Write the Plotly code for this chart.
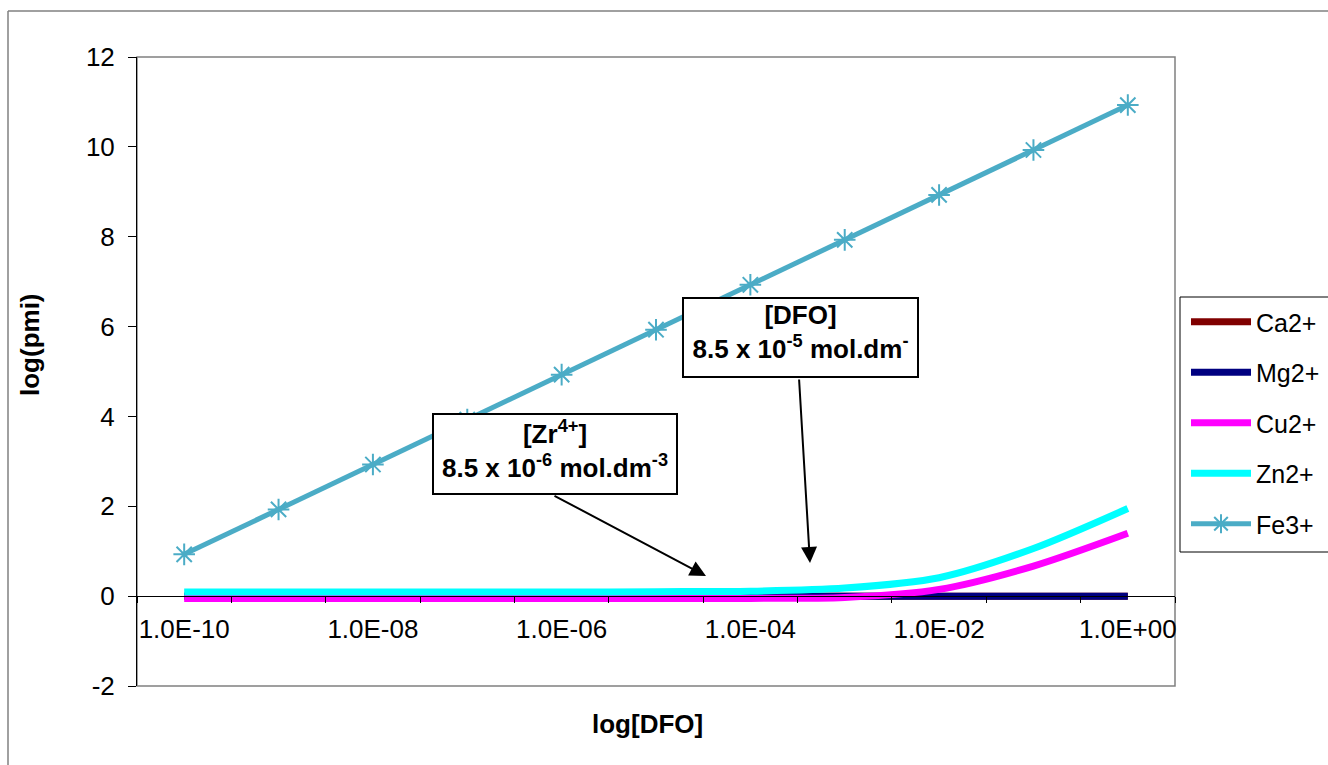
import plotly.graph_objects as go

# log[DFO] concentrations (mol.dm-3), one point per decade
dfo = [1e-10, 1e-9, 1e-8, 1e-7, 1e-6, 1e-5, 1e-4, 1e-3, 1e-2, 1e-1, 1e0]

# log(pmi) for each metal ion
ca2 = [0.0, 0.0, 0.0, 0.0, 0.0, 0.0, 0.0, 0.0, 0.0, 0.0, 0.0]
mg2 = [0.0, 0.0, 0.0, 0.0, 0.0, 0.0, 0.0, 0.0, 0.0, 0.0, 0.0]
cu2 = [-0.05, -0.05, -0.05, -0.05, -0.05, -0.05, -0.05, -0.03, 0.15, 0.67, 1.40]
zn2 = [0.09, 0.09, 0.09, 0.09, 0.09, 0.10, 0.11, 0.18, 0.41, 1.06, 1.95]
fe3 = [0.93, 1.93, 2.93, 3.93, 4.93, 5.93, 6.93, 7.93, 8.93, 9.93, 10.93]

# axis labelling
x_tick_vals = [1e-10, 1e-8, 1e-6, 1e-4, 1e-2, 1e0]
x_tick_text = ["1.0E-10", "1.0E-08", "1.0E-06", "1.0E-04", "1.0E-02", "1.0E+00"]
y_tick_vals = [-2, 0, 2, 4, 6, 8, 10, 12]
y_tick_text = ["-2", "0", "2", "4", "6", "8", "10", "12"]

FONT = "Liberation Sans, Arial, sans-serif"

# figure geometry (pixels)
W, H = 1328, 765
L, R, T, B = 137, 153, 57, 79
PW, PH = W - L - R, H - T - B


def px(xp):
    return (xp - L) / PW


def py(yp):
    return (H - B - yp) / PH


fig = go.Figure()

series = [
    ("Ca2+", ca2, "#800000"),
    ("Mg2+", mg2, "#000080"),
    ("Cu2+", cu2, "#FF00FF"),
    ("Zn2+", zn2, "#00FFFF"),
]
for i, (name, vals, col) in enumerate(series):
    fig.add_trace(go.Scatter(
        x=dfo, y=vals, name=name, mode="lines",
        line=dict(color=col, width=7, shape="spline", smoothing=0.8),
        legendgroup=str(i),
    ))

fig.add_trace(go.Scatter(
    x=dfo, y=fe3, name="Fe3+", mode="lines+markers",
    line=dict(color="#4BACC6", width=5),
    marker=dict(symbol="asterisk-open", size=18,
                line=dict(color="#4BACC6", width=2)),
    legendgroup="4",
))

half_decades = [10 ** (k + 0.5) for k in range(-11, 1)]

fig.update_layout(
    width=W, height=H,
    margin=dict(l=L, r=R, t=T, b=B, autoexpand=False),
    paper_bgcolor="white", plot_bgcolor="white",
    font=dict(family=FONT, size=26, color="black"),
    showlegend=True,
    legend=dict(
        x=px(1186), y=py(299), xanchor="left", yanchor="top",
        bgcolor="rgba(0,0,0,0)", borderwidth=0,
        font=dict(family=FONT, size=25, color="black"),
        tracegroupgap=15, traceorder="grouped", itemwidth=60,
    ),
    xaxis=dict(
        type="log", range=[-10.5, 0.5],
        anchor="free", position=2 / 14,
        showline=True, linecolor="black", linewidth=1,
        showgrid=False, zeroline=False,
        tickmode="array", tickvals=x_tick_vals, ticktext=x_tick_text,
        ticks="", ticklabelstandoff=10,
        tickfont=dict(family=FONT, size=26, color="black"),
        minor=dict(tickmode="array", tickvals=half_decades, ticks="outside",
                   ticklen=6, tickcolor="black", tickwidth=1, showgrid=False),
    ),
    yaxis=dict(
        range=[-2, 12], tickmode="array", tickvals=y_tick_vals, ticktext=y_tick_text,
        showline=True, linecolor="black", linewidth=1,
        showgrid=False, zeroline=False,
        ticks="outside", ticklen=8, tickcolor="black",
        ticklabelstandoff=8,
        tickfont=dict(family=FONT, size=26, color="black"),
    ),
)

# plot-area frame and outer chart frame
fig.add_shape(type="rect", xref="paper", yref="paper", x0=0, y0=0, x1=1, y1=1,
              line=dict(color="#808080", width=1.5), layer="below")
fig.add_shape(type="line", xref="paper", yref="paper",
              x0=px(8), y0=py(11), x1=px(1328), y1=py(11),
              line=dict(color="#808080", width=1.5))
fig.add_shape(type="line", xref="paper", yref="paper",
              x0=px(8), y0=py(11), x1=px(8), y1=py(770),
              line=dict(color="#808080", width=1.5))
# legend frame
fig.add_shape(type="rect", xref="paper", yref="paper",
              x0=px(1180), y0=py(297), x1=px(1340), y1=py(552),
              line=dict(color="black", width=1))

# axis titles
fig.add_annotation(text="<b>log[DFO]</b>", xref="paper", yref="paper",
                   x=px(647), y=py(724), yanchor="middle", showarrow=False,
                   font=dict(family=FONT, size=26, color="black"))
fig.add_annotation(text="<b>log(pmi)</b>", xref="paper", yref="paper",
                   x=px(30), y=py(345), xanchor="center", showarrow=False,
                   textangle=-90,
                   font=dict(family=FONT, size=26, color="black"))

# text boxes
box_font = dict(family=FONT, size=26, color="black")
fig.add_annotation(
    text="<b>[Zr<sup>4+</sup>]<br>8.5 x 10<sup>-6</sup> mol.dm<sup>-3</sup></b>",
    xref="paper", yref="paper", x=px(555), y=py(454),
    xanchor="center", yanchor="middle", showarrow=False, valign="top",
    bgcolor="white", bordercolor="black", borderwidth=2, borderpad=1,
    width=240, height=76, font=box_font,
)
fig.add_annotation(
    text="<b>[DFO]<br>8.5 x 10<sup>-5</sup> mol.dm<sup>-</sup></b>",
    xref="paper", yref="paper", x=px(800), y=py(337.5),
    xanchor="center", yanchor="middle", showarrow=False, valign="top",
    bgcolor="white", bordercolor="black", borderwidth=2, borderpad=1,
    width=231, height=75, font=box_font,
)

# pointer arrows
for (hx, hy, tx, ty) in [(706, 576, 553, 495), (810, 563, 799, 378)]:
    fig.add_annotation(
        text="", xref="paper", yref="paper", x=px(hx), y=py(hy),
        ax=tx - hx, ay=ty - hy, axref="pixel", ayref="pixel",
        showarrow=True, arrowhead=2, arrowsize=1.6, arrowwidth=2,
        arrowcolor="black", standoff=0,
    )

fig.write_html("out.html")
